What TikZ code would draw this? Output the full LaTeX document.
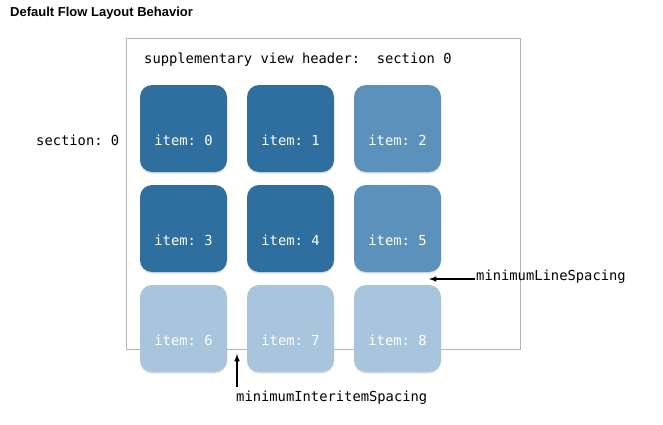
\documentclass[tikz,border=0pt]{standalone}
\usepackage{fontspec}
\setsansfont{Liberation Sans}
\setmonofont{DejaVu Sans Mono}
\usetikzlibrary{arrows}
\usetikzlibrary{shadows}
\definecolor{itemdark}{HTML}{2F6F9F}
\definecolor{itemmid}{HTML}{5B91BB}
\definecolor{itemlight}{HTML}{A9C5DD}
\definecolor{framegray}{HTML}{B4B4B4}

\tikzset{
  itembox/.style={rounded corners=12pt, minimum width=87pt, minimum height=87pt,
    inner sep=0pt, drop shadow={opacity=0.25, shadow xshift=0pt, shadow yshift=-1.5pt}},
  itemtext/.style={text=white, font=\fontsize{13.8}{15}\ttfamily},
  monotext/.style={font=\fontsize{13.8}{15}\ttfamily, inner sep=1pt}
}

\begin{document}
\begin{tikzpicture}[x=1pt, y=-1pt]
  \useasboundingbox (0,0) rectangle (663,424);

  \node[anchor=west, inner sep=0pt, font=\fontsize{13}{15}\sffamily\bfseries] (title) at (10,13) {Default Flow Layout Behavior};

  % collection view frame
  \draw[framegray, line width=1pt] (126,38) rectangle (520,349);
  \node[monotext, anchor=west] (header) at (143,60) {supplementary view header:\ \ section 0};
  \node[monotext, anchor=west] (section) at (35,140) {section: 0};

  % items
  \foreach \n/\c/\x/\y in {0/itemdark/140/85, 1/itemdark/247/85, 2/itemmid/354/85,
                           3/itemdark/140/185, 4/itemdark/247/185, 5/itemmid/354/185,
                           6/itemlight/140/285, 7/itemlight/247/285, 8/itemlight/354/285} {
    \node[itembox, fill=\c] (item\n) at (\x+43.5,\y+43.5) {};
    \node[itemtext] (label\n) at ([yshift=-12pt]item\n.center) {item: \n};
  }

  % spacing annotations
  \node[monotext, anchor=west] (linelbl) at (475,277) {minimumLineSpacing};
  \coordinate (linetip) at (429,279);
  \draw[-latex, line width=1.5pt] (linelbl.west |- linetip) -- (linetip);

  \node[monotext, anchor=west] (interlbl) at (235,398) {minimumInteritemSpacing};
  \coordinate (gaptip) at (237,354);
  \draw[-latex, line width=1.5pt] (gaptip |- interlbl.north) ++(0,-3) -- (gaptip);

\end{tikzpicture}
\end{document}
